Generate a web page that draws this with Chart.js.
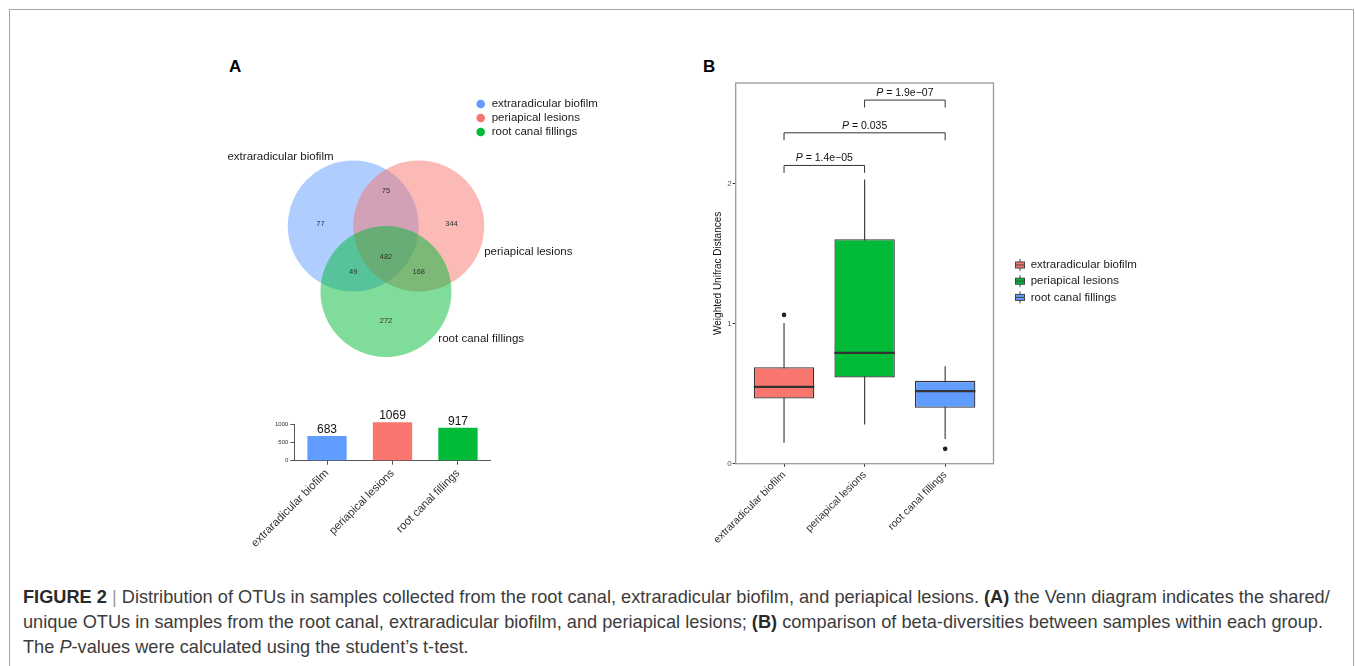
<!DOCTYPE html>
<html><head><meta charset="utf-8">
<script src="https://cdn.jsdelivr.net/npm/chart.js@4.4.1/dist/chart.umd.min.js"></script>
<style>
html,body{margin:0;padding:0;background:#fff;}
body{width:1355px;height:666px;overflow:hidden;position:relative;font-family:"Liberation Sans",Arial,sans-serif;}
#frame{position:absolute;left:9px;top:9px;width:1345px;height:700px;border:1.5px solid #a3a3a3;border-bottom:none;box-sizing:border-box;}
.panel{position:absolute;font-weight:bold;font-size:17px;color:#000;line-height:17px;}
canvas{position:absolute;}
#caption{position:absolute;left:23px;top:585px;font-size:18.2px;line-height:25px;color:#3c3c3c;white-space:nowrap;}
#caption b{color:#2a2a2a;}
#caption .bar{color:#9a9a9a;}
</style></head>
<body>
<div id="frame"></div>
<div class="panel" style="left:229px;top:58px">A</div>
<div class="panel" style="left:703px;top:58px">B</div>
<canvas id="venn" width="400" height="290" style="left:220px;top:90px"></canvas>
<canvas id="bars" width="320" height="160" style="left:200px;top:400px"></canvas>
<canvas id="box" width="460" height="490" style="left:690px;top:70px"></canvas>
<div id="caption"><b>FIGURE 2</b> <span class="bar">|</span> Distribution of OTUs in samples collected from the root canal, extraradicular biofilm, and periapical lesions. <b>(A)</b> the Venn diagram indicates the shared/<br>unique OTUs in samples from the root canal, extraradicular biofilm, and periapical lesions; <b>(B)</b> comparison of beta-diversities between samples within each group.<br>The <i>P</i>-values were calculated using the student’s t-test.</div>
<script>
// ---------------- DATA ----------------
const groups = ['extraradicular biofilm', 'periapical lesions', 'root canal fillings'];
// Venn region counts: only EB, only PL, only RCF, EB∩PL, EB∩RCF, PL∩RCF, all three
const vennRegionCounts = [77, 344, 272, 75, 49, 168, 482];
// total OTUs per group
const otuTotals = [683, 1069, 917];
// Weighted Unifrac box plot statistics
const boxQ1 = [0.466, 0.616, 0.399];
const boxMedian = [0.549, 0.792, 0.518];
const boxQ3 = [0.689, 1.604, 0.592];
const whiskerLow = [0.149, 0.280, 0.177];
const whiskerHigh = [1.006, 2.030, 0.696];
const outliers = [[1.063], [], [0.106]];
// pairwise comparisons (group indices) and p-values
const compPairs = [[0, 1], [0, 2], [1, 2]];
const pValues = ['1.4e\u221205', '0.035', '1.9e\u221207'];

// ---------------- STYLE / LAYOUT ----------------
const FONT = "'Liberation Sans', Arial, sans-serif";
Chart.defaults.font.family = FONT;
const vennColors = ['#619CFF', '#F8766D', '#00BA38'];
const boxColors = ['#F8766D', '#00BA38', '#619CFF'];
const vennLayout = {
  centers: [[-0.5, 0], [0.5, 0], [0, -1]], radius: 1,
  regionPos: [[-1.0, 0.03], [1.0, 0.03], [0, -1.45], [0, 0.53], [-0.5, -0.70], [0.5, -0.70], [0, -0.48]],
  setLabelPos: [[-2.42, 1.05], [1.5, -0.39], [0.8, -1.73]]
};
const bracketLayout = {y: [2.131, 2.364, 2.598], tip: 7.5};

// ---------------- VENN ----------------
const vennPlugin = {
  id: 'vennText',
  afterDatasetsDraw(chart) {
    const {ctx, scales: {x, y}} = chart;
    ctx.save();
    ctx.fillStyle = '#333';
    ctx.font = '7.5px ' + FONT;
    ctx.textAlign = 'center'; ctx.textBaseline = 'middle';
    vennRegionCounts.forEach((c, i) => {
      const p = vennLayout.regionPos[i];
      ctx.fillText(String(c), x.getPixelForValue(p[0]), y.getPixelForValue(p[1]));
    });
    ctx.fillStyle = '#1a1a1a';
    ctx.font = '11.5px ' + FONT;
    ctx.textAlign = 'left';
    groups.forEach((g, i) => {
      const p = vennLayout.setLabelPos[i];
      ctx.fillText(g, x.getPixelForValue(p[0]), y.getPixelForValue(p[1]));
    });
    // legend
    groups.forEach((g, i) => {
      const cy = 14 + i * 14;
      ctx.beginPath(); ctx.fillStyle = vennColors[i];
      ctx.arc(260.7, cy, 4.3, 0, Math.PI * 2); ctx.fill();
      ctx.fillStyle = '#1a1a1a';
      ctx.fillText(g, 271.7, cy);
    });
    ctx.restore();
  }
};
new Chart(document.getElementById('venn'), {
  type: 'scatter',
  data: {
    datasets: [{
      data: vennLayout.centers.map(c => ({x: c[0], y: c[1]})),
      backgroundColor: vennColors.map(c => c + '80'),
      borderWidth: 0,
      pointRadius: ctx => {
        const s = ctx.chart.scales.x;
        return Math.abs(s.getPixelForValue(vennLayout.radius) - s.getPixelForValue(0));
      }
    }]
  },
  options: {
    responsive: false, animation: false, events: [],
    layout: {padding: 0},
    plugins: {legend: {display: false}, tooltip: {enabled: false}},
    scales: {
      x: {type: 'linear', display: false, min: -2.534, max: 3.573},
      y: {type: 'linear', display: false, min: -2.351, max: 2.076}
    }
  },
  plugins: [vennPlugin]
});

// ---------------- BAR ----------------
const barLabelPlugin = {
  id: 'barLabels',
  afterDatasetsDraw(chart) {
    const {ctx} = chart;
    ctx.save();
    ctx.fillStyle = '#111'; ctx.font = '12px ' + FONT;
    ctx.textAlign = 'center'; ctx.textBaseline = 'alphabetic';
    chart.getDatasetMeta(0).data.forEach((el, i) => {
      ctx.fillText(String(otuTotals[i]), el.x, el.y - 3);
    });
    ctx.restore();
  }
};
new Chart(document.getElementById('bars'), {
  type: 'bar',
  data: {labels: groups, datasets: [{data: otuTotals, backgroundColor: vennColors, borderWidth: 0, categoryPercentage: 1, barPercentage: 0.6, clip: false}]},
  options: {
    responsive: false, animation: false, events: [],
    layout: {padding: {top: 24.7, right: 29.3, left: 0, bottom: 0}},
    plugins: {legend: {display: false}, tooltip: {enabled: false}},
    scales: {
      x: {
        offset: true,
        grid: {drawOnChartArea: false, offset: false, tickLength: 4, tickColor: '#555'},
        border: {color: '#555', width: 1},
        ticks: {minRotation: 45, maxRotation: 45, color: '#333', font: {size: 11.3}, padding: 2},
        afterFit: s => { s.height = 99.3; }
      },
      y: {
        min: 0, max: 1000,
        grid: {drawOnChartArea: false, tickLength: 4, tickColor: '#555'},
        border: {color: '#555', width: 1},
        ticks: {stepSize: 500, color: '#333', font: {size: 6}, padding: 2, callback: v => String(v)},
        afterFit: s => { s.width = 94.3; }
      }
    }
  },
  plugins: [barLabelPlugin]
});

// ---------------- BOX PLOT ----------------
const boxPlugin = {
  id: 'boxExtras',
  beforeDatasetsDraw(chart) {
    const {ctx, scales: {x, y}} = chart;
    ctx.save(); ctx.strokeStyle = '#444'; ctx.lineWidth = 1.2;
    groups.forEach((g, i) => {
      const px = x.getPixelForValue(i + 1);
      ctx.beginPath();
      ctx.moveTo(px, y.getPixelForValue(whiskerLow[i]));
      ctx.lineTo(px, y.getPixelForValue(whiskerHigh[i]));
      ctx.stroke();
    });
    ctx.restore();
  },
  afterDatasetsDraw(chart) {
    const {ctx, scales: {x, y}} = chart;
    const meta = chart.getDatasetMeta(0);
    ctx.save();
    ctx.strokeStyle = '#333'; ctx.lineWidth = 2.2;
    meta.data.forEach((el, i) => {
      const py = y.getPixelForValue(boxMedian[i]);
      ctx.beginPath(); ctx.moveTo(el.x - el.width / 2, py); ctx.lineTo(el.x + el.width / 2, py); ctx.stroke();
    });
    ctx.fillStyle = '#222';
    outliers.forEach((arr, i) => arr.forEach(v => {
      ctx.beginPath(); ctx.arc(x.getPixelForValue(i + 1), y.getPixelForValue(v), 2.3, 0, Math.PI * 2); ctx.fill();
    }));
    // significance brackets
    ctx.strokeStyle = '#333'; ctx.lineWidth = 1;
    ctx.fillStyle = '#111'; ctx.textBaseline = 'middle';
    compPairs.forEach((pr, k) => {
      const x1 = x.getPixelForValue(pr[0] + 1), x2 = x.getPixelForValue(pr[1] + 1);
      const by = y.getPixelForValue(bracketLayout.y[k]);
      ctx.beginPath();
      ctx.moveTo(x1, by + bracketLayout.tip); ctx.lineTo(x1, by); ctx.lineTo(x2, by); ctx.lineTo(x2, by + bracketLayout.tip);
      ctx.stroke();
      const fI = 'italic 10.5px ' + FONT, fN = '10.5px ' + FONT;
      const rest = ' = ' + pValues[k];
      ctx.font = fI; const w1 = ctx.measureText('P').width;
      ctx.font = fN; const w2 = ctx.measureText(rest).width;
      const sx = (x1 + x2) / 2 - (w1 + w2) / 2, ty = by - 7;
      ctx.textAlign = 'left';
      ctx.font = fI; ctx.fillText('P', sx, ty);
      ctx.font = fN; ctx.fillText(rest, sx + w1, ty);
    });
    ctx.restore();
  },
  afterDraw(chart) {
    const {ctx, chartArea: a} = chart;
    ctx.save();
    ctx.strokeStyle = '#9a9a9a'; ctx.lineWidth = 1.3;
    ctx.strokeRect(a.left, a.top, a.right - a.left, a.bottom - a.top);
    // legend
    ctx.font = '11.5px ' + FONT; ctx.textBaseline = 'middle'; ctx.textAlign = 'left';
    groups.forEach((g, i) => {
      const cx = 330, cy = 195 + i * 16.2;
      ctx.strokeStyle = '#444'; ctx.lineWidth = 1;
      ctx.beginPath(); ctx.moveTo(cx, cy - 6); ctx.lineTo(cx, cy + 6); ctx.stroke();
      ctx.fillStyle = boxColors[i];
      ctx.fillRect(cx - 4.5, cy - 3, 9, 6);
      ctx.strokeRect(cx - 4.5, cy - 3, 9, 6);
      ctx.beginPath(); ctx.moveTo(cx - 4.5, cy); ctx.lineTo(cx + 4.5, cy); ctx.stroke();
      ctx.fillStyle = '#1a1a1a';
      ctx.fillText(g, 340.7, cy);
    });
    ctx.restore();
  }
};
new Chart(document.getElementById('box'), {
  type: 'bar',
  data: {
    datasets: [{
      data: groups.map((g, i) => ({x: i + 1, y: [boxQ1[i], boxQ3[i]]})),
      backgroundColor: boxColors, borderColor: '#333', borderWidth: 1.3, borderSkipped: false,
      categoryPercentage: 1, barPercentage: 0.75
    }]
  },
  options: {
    responsive: false, animation: false, events: [],
    layout: {padding: {top: 13, right: 156.5, left: 0, bottom: 0}},
    plugins: {legend: {display: false}, tooltip: {enabled: false}},
    scales: {
      x: {
        type: 'linear', min: 0.4, max: 3.6, offset: false,
        grid: {drawOnChartArea: false, offset: false, tickLength: 3, tickColor: '#333'},
        border: {display: false},
        ticks: {stepSize: 1, includeBounds: false, minRotation: 45, maxRotation: 45, autoSkip: false,
          color: '#333', font: {size: 10.5}, padding: 2,
          callback: v => groups[v - 1] || ''},
        afterFit: s => { s.height = 96.3; }
      },
      y: {
        min: 0, max: 2.72,
        grid: {drawOnChartArea: false, tickLength: 3, tickColor: '#333'},
        border: {display: false},
        ticks: {stepSize: 1, includeBounds: false, color: '#555', font: {size: 8}, padding: 1},
        title: {display: true, text: 'Weighted Unifrac Distances', color: '#111', font: {size: 10}, padding: {top: 22, bottom: 0}},
        afterFit: s => { s.width = 45.7; }
      }
    }
  },
  plugins: [boxPlugin]
});
</script>
</body></html>
